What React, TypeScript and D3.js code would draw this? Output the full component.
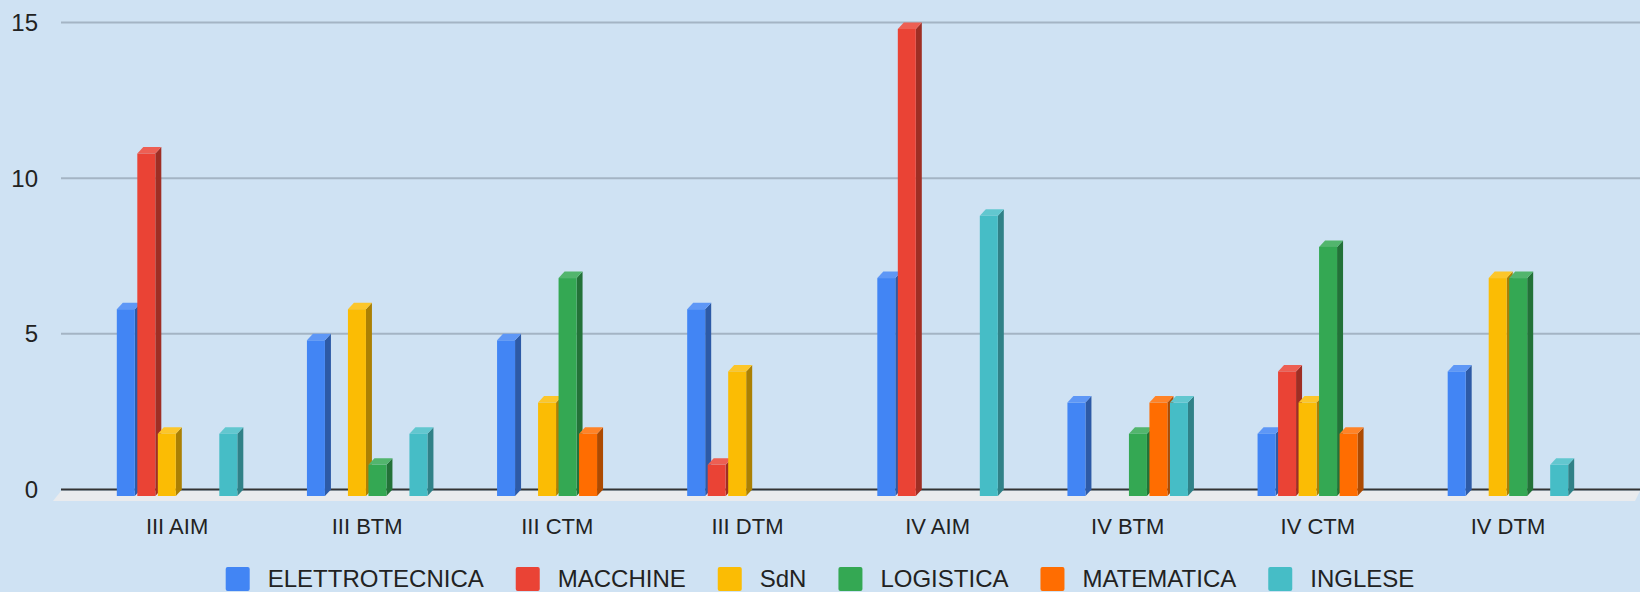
import React, { useEffect, useRef } from 'react';
import * as d3 from 'd3';

const categories = ['III AIM', 'III BTM', 'III CTM', 'III DTM', 'IV AIM', 'IV BTM', 'IV CTM', 'IV DTM'];
const seriesNames = ['ELETTROTECNICA', 'MACCHINE', 'SdN', 'LOGISTICA', 'MATEMATICA', 'INGLESE'];
const seriesColors = ['#4285f4', '#ea4335', '#fbbc04', '#34a853', '#ff6d01', '#46bdc6'];

const elettrotecnica = [6, 5, 5, 6, 7, 3, 2, 4];
const macchine = [11, 0, 0, 1, 15, 0, 4, 0];
const sdn = [2, 6, 3, 4, 0, 0, 3, 7];
const logistica = [0, 1, 7, 0, 0, 2, 8, 7];
const matematica = [0, 0, 2, 0, 0, 3, 2, 0];
const inglese = [2, 2, 0, 0, 9, 3, 0, 1];

const yTicks = [0, 5, 10, 15];

const seriesValues = [elettrotecnica, macchine, sdn, logistica, matematica, inglese];

const WIDTH = 1640;
const HEIGHT = 592;
const FONT = '"Liberation Sans", Arial, sans-serif';

export default function App() {
  const svgRef = useRef<SVGSVGElement | null>(null);

  useEffect(() => {
    document.body.style.margin = '0';
    const svg = d3.select(svgRef.current);
    svg.selectAll('*').remove();

    // 3D depth offset (back plane relative to front plane)
    const dx = 6;
    const dy = -6.5;

    const plotLeft = 61;
    const plotRight = WIDTH;

    svg.append('rect')
      .attr('width', WIDTH)
      .attr('height', HEIGHT)
      .attr('fill', '#cfe2f3');

    const x0 = d3.scaleBand<string>()
      .domain(categories)
      .range([82, 1603])
      .padding(0);

    const groupWidth = 120.5;
    const x1 = d3.scaleBand<string>()
      .domain(seriesNames)
      .range([0, groupWidth])
      .paddingInner(0.122)
      .paddingOuter(0);

    // front plane scale
    const y = d3.scaleLinear().domain([0, 15]).range([496, 29]);

    // floor
    const floorTop = y(0) + dy + 1.5;
    const floorBottom = y(0) + 5;
    svg.append('path')
      .attr('d', `M${plotLeft},${floorTop} L${plotRight},${floorTop} L${plotRight - 5},${floorBottom} L${plotLeft - 8},${floorBottom} Z`)
      .attr('fill', '#e9ebee');

    // gridlines on back plane
    svg.append('g')
      .selectAll('line')
      .data(yTicks.filter(t => t !== 0))
      .enter().append('line')
      .attr('x1', plotLeft)
      .attr('x2', plotRight)
      .attr('y1', d => y(d) + dy)
      .attr('y2', d => y(d) + dy)
      .attr('stroke', '#a4b4c4')
      .attr('stroke-width', 2);

    // zero line
    svg.append('line')
      .attr('x1', plotLeft)
      .attr('x2', plotRight)
      .attr('y1', y(0) + dy)
      .attr('y2', y(0) + dy)
      .attr('stroke', '#333')
      .attr('stroke-width', 2);

    // y tick labels
    svg.append('g')
      .selectAll('text')
      .data(yTicks)
      .enter().append('text')
      .attr('x', 38)
      .attr('y', d => y(d) + dy)
      .attr('dy', '0.36em')
      .attr('text-anchor', 'end')
      .style('font-family', FONT)
      .style('font-size', '24px')
      .style('fill', '#222')
      .text(d => d);

    // bars
    const bars: { cat: string; s: number; v: number }[] = [];
    categories.forEach((cat, ci) => {
      seriesNames.forEach((_, si) => {
        const v = seriesValues[si][ci];
        if (v > 0) bars.push({ cat, s: si, v });
      });
    });

    const gBars = svg.append('g');
    const offset = (x0.bandwidth() - groupWidth) / 2;
    bars.forEach(b => {
      const base = seriesColors[b.s];
      const side = d3.interpolateRgb(base, '#000')(0.32);
      const top = d3.interpolateRgb(base, '#fff')(0.15);
      const xl = (x0(b.cat) as number) + offset + (x1(seriesNames[b.s]) as number);
      const w = x1.bandwidth();
      const yt = y(b.v);
      const yb = y(0);
      const g = gBars.append('g');
      // side face
      g.append('path')
        .attr('d', `M${xl + w},${yt} L${xl + w + dx},${yt + dy} L${xl + w + dx},${yb + dy} L${xl + w},${yb} Z`)
        .attr('fill', side);
      // top face
      g.append('path')
        .attr('d', `M${xl},${yt} L${xl + dx},${yt + dy} L${xl + w + dx},${yt + dy} L${xl + w},${yt} Z`)
        .attr('fill', top);
      // front face
      g.append('rect')
        .attr('x', xl)
        .attr('y', yt)
        .attr('width', w)
        .attr('height', yb - yt)
        .attr('fill', base);
    });

    // x labels
    svg.append('g')
      .selectAll('text')
      .data(categories)
      .enter().append('text')
      .attr('x', d => (x0(d) as number) + x0.bandwidth() / 2)
      .attr('y', 534)
      .attr('text-anchor', 'middle')
      .style('font-family', FONT)
      .style('font-size', '22px')
      .style('fill', '#222')
      .text(d => d);

    // legend, centred
    const legend = svg.append('g');
    const items = seriesNames.map((name, i) => {
      const g = legend.append('g');
      g.append('rect')
        .attr('y', 567)
        .attr('width', 24)
        .attr('height', 24)
        .attr('rx', 2)
        .attr('fill', seriesColors[i]);
      const t = g.append('text')
        .attr('x', 42)
        .attr('y', 587)
        .style('font-family', FONT)
        .style('font-size', '24px')
        .style('fill', '#222')
        .text(name);
      const tw = (t.node() as SVGTextElement).getComputedTextLength();
      return { g, w: 42 + tw };
    });
    const gap = 32;
    const total = d3.sum(items, d => d.w) + gap * (items.length - 1);
    let cx = WIDTH / 2 - total / 2;
    items.forEach(it => {
      it.g.attr('transform', `translate(${cx},0)`);
      cx += it.w + gap;
    });
  }, []);

  return (
    <svg ref={svgRef} width={WIDTH} height={HEIGHT} style={{ display: 'block' }}></svg>
  );
}
